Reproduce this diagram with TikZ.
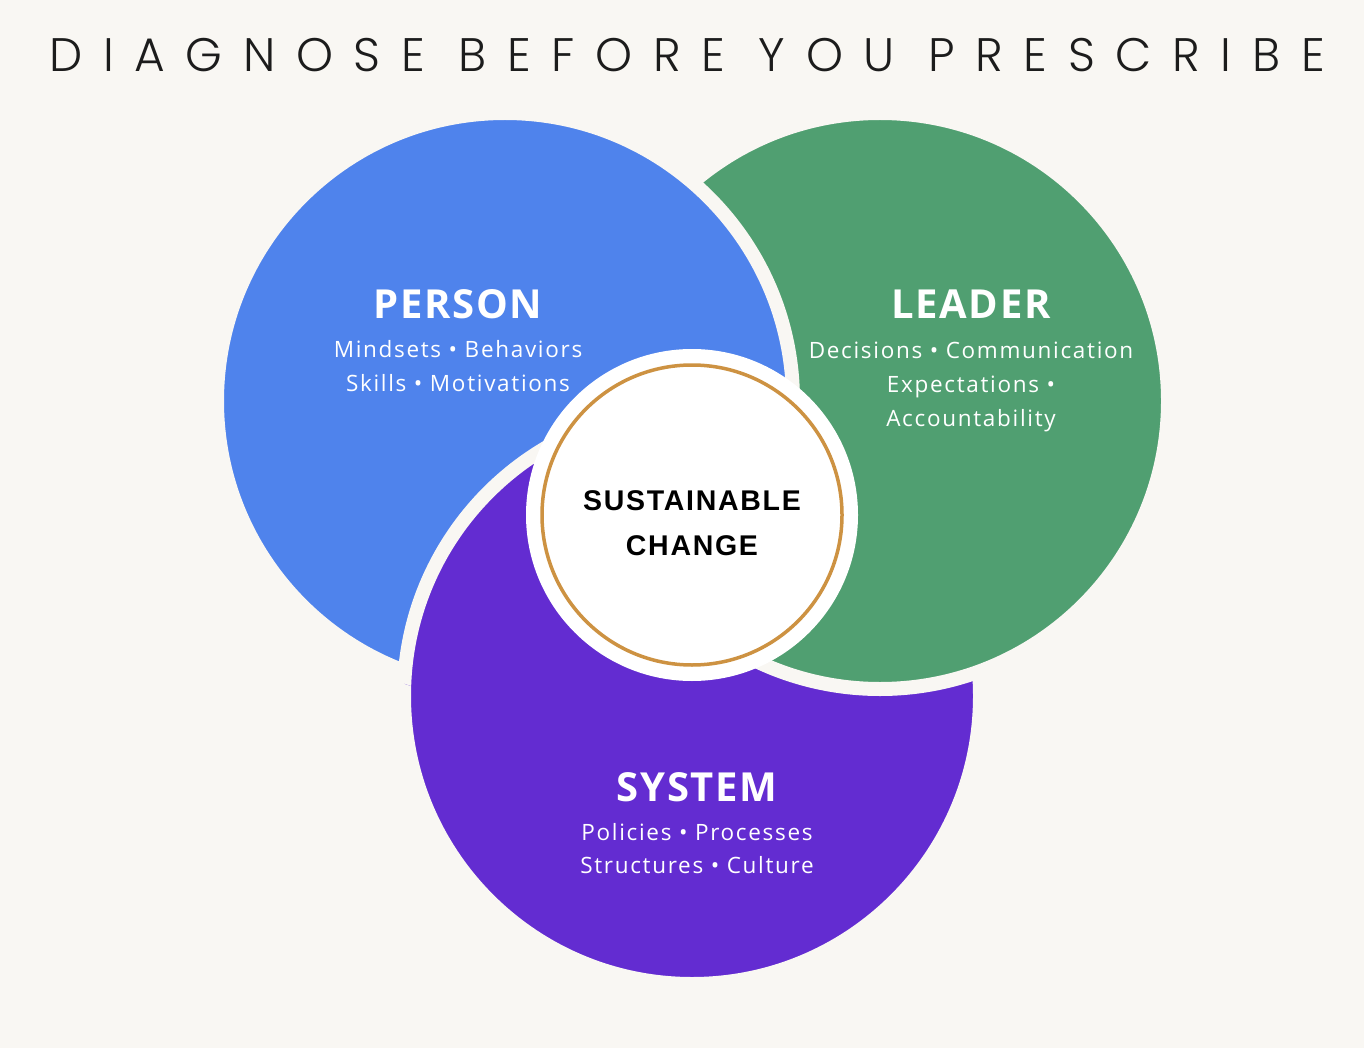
\documentclass[tikz,border=0pt]{standalone}
\usepackage{fontspec}
\setmainfont{Open Sans}
\newfontfamily\titlefont[LetterSpace=44]{Poppins Light}
\newfontfamily\headfont[LetterSpace=4]{Open Sans}
\newfontfamily\subfont[LetterSpace=7.5]{Open Sans}
\newfontfamily\centerfont[LetterSpace=6]{Liberation Sans}
\definecolor{bgc}{HTML}{F9F7F3}
\definecolor{personc}{HTML}{4F83EC}
\definecolor{leaderc}{HTML}{509F71}
\definecolor{systemc}{HTML}{632CD1}
\definecolor{goldc}{HTML}{CD9242}
\definecolor{titlec}{HTML}{1C1C1C}
\tikzset{
  bigcirc/.style={circle, draw=bgc, line width=14pt, minimum size=576pt, inner sep=0pt},
  head/.style={anchor=base, text=white, font=\fontsize{40}{48}\selectfont\headfont\bfseries},
  sub/.style={anchor=base, text=white, font=\fontsize{22.5}{26}\selectfont\subfont},
  ctext/.style={anchor=base, text=black, font=\fontsize{28.5}{32}\selectfont\centerfont\bfseries},
}
\begin{document}
\begin{tikzpicture}[x=1pt,y=-1pt]
\fill[bgc] (0,0) rectangle (1364,1048);
\useasboundingbox (0,0) rectangle (1364,1048);
\node[text=titlec, anchor=base, font=\fontsize{47}{56}\selectfont\titlefont] (title) at (687,72) {DIAGNOSE BEFORE YOU PRESCRIBE};
% cyclic overlap: person over leader, system over person, leader over system
\node[bigcirc, fill=systemc] (system) at (692,696) {};
\node[bigcirc, fill=leaderc] (leader) at (880,401) {};
\node[bigcirc, fill=personc] (person) at (505,401) {};
\begin{scope}
  \clip (person.center) circle (300pt);
  \fill[systemc, draw=bgc, line width=14pt] (system.center) circle (288pt);
\end{scope}
\node[circle, fill=white, minimum size=332pt, inner sep=0pt] (center) at (692,515) {};
\draw[goldc, line width=3.5pt] (center.center) circle (150pt);
\node[head] (personh) at (458,318) {PERSON};
\node[sub] (person1) at (458,357) {Mindsets • Behaviors};
\node[sub] (person2) at (458,391) {Skills • Motivations};
\node[head] (leaderh) at (971,319) {LEADER};
\node[sub] (leader1) at (971,358) {Decisions • Communication};
\node[sub] (leader2) at (971,392) {Expectations •};
\node[sub] (leader3) at (971,426) {Accountability};
\node[head] (systemh) at (697,801) {SYSTEM};
\node[sub] (system1) at (697,840) {Policies • Processes};
\node[sub] (system2) at (697,873) {Structures • Culture};
\node[ctext] (center1) at (692,510) {SUSTAINABLE};
\node[ctext] (center2) at (692,555) {CHANGE};
\end{tikzpicture}
\end{document}
